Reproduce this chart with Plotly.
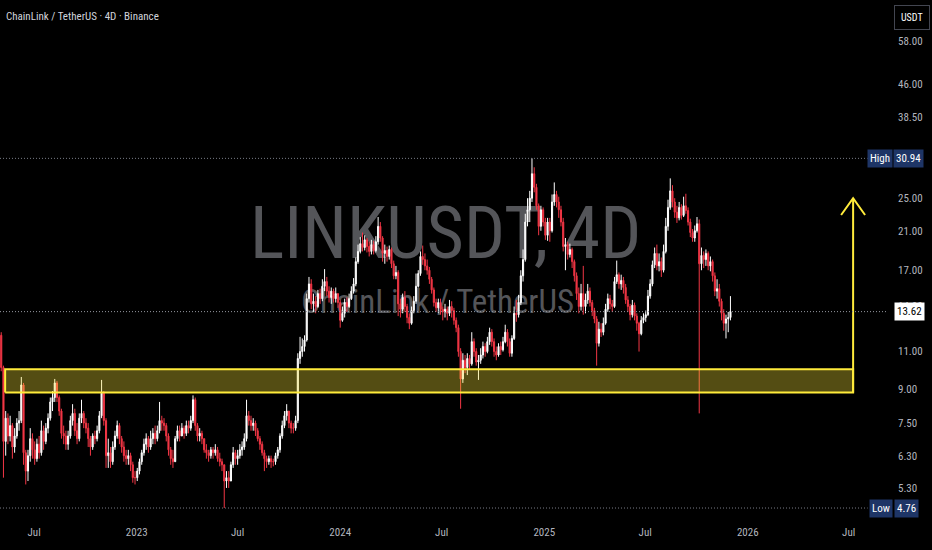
import math
import pandas as pd
import plotly.graph_objects as go

# ---------------- data ----------------
start_date = "2022-05-03"          # first 4D candle
first_open = 12.0

closes = [
    10.1, 6.8, 7.7, 7.0, 7.4, 6.6, 7.0, 7.5, 7.6, 9.2,
    6.4, 5.8, 6.3, 6.9, 6.5, 6.2, 6.7, 6.4, 7.2, 6.8,
    7.3, 7.7, 8.4, 8.6, 9.3, 8.6, 8.0, 7.1, 7.0, 6.7,
    7.0, 7.6, 7.9, 7.2, 6.9, 7.7, 7.9, 7.5, 7.3, 6.9,
    6.6, 7.0, 6.9, 7.2, 7.8, 8.8, 7.6, 6.3, 6.4, 6.1,
    6.6, 7.0, 7.4, 6.9, 6.6, 6.3, 6.2, 6.3, 6.0, 5.6,
    5.6, 5.8, 6.1, 6.4, 6.7, 6.9, 6.6, 6.9, 7.1, 6.9,
    7.2, 7.6, 7.5, 7.4, 7.0, 6.5, 6.2, 6.1, 6.9, 7.2,
    7.0, 7.3, 7.1, 7.4, 7.3, 7.6, 8.5, 7.4, 7.0, 7.1,
    6.9, 6.5, 6.4, 6.3, 6.5, 6.4, 6.5, 6.2, 6.1, 6.0,
    5.5, 5.6, 5.5, 6.0, 6.4, 6.2, 6.3, 6.5, 6.6, 6.9,
    7.8, 7.6, 7.4, 7.5, 7.2, 6.9, 6.7, 6.4, 6.2, 6.1,
    6.2, 6.1, 6.1, 6.3, 6.5, 7.0, 7.4, 7.8, 8.0, 7.5,
    7.3, 7.3, 7.6, 10.6, 11.0, 11.3, 11.7, 14.6, 15.8, 14.2,
    14.4, 14.0, 15.0, 14.6, 15.6, 16.0, 15.2, 14.7, 15.2, 14.6,
    15.0, 14.3, 13.0, 13.5, 14.3, 14.0, 14.6, 15.2, 15.8, 17.8,
    18.8, 19.6, 19.2, 20.0, 19.3, 18.8, 19.5, 18.9, 19.8, 21.5,
    20.2, 18.6, 18.9, 18.3, 19.0, 17.6, 16.5, 16.8, 14.2, 13.8,
    14.7, 14.0, 13.2, 12.8, 13.7, 14.4, 15.6, 16.7, 18.3, 18.0,
    17.4, 17.0, 16.2, 15.3, 14.3, 13.9, 14.3, 13.8, 13.6, 13.8,
    13.5, 14.0, 13.7, 13.0, 12.5, 11.0, 9.5, 10.5, 10.1, 10.6,
    10.3, 11.6, 11.0, 10.4, 10.5, 10.8, 11.3, 11.0, 11.6, 12.2,
    11.6, 11.0, 10.8, 11.3, 11.1, 11.6, 12.2, 11.6, 10.9, 11.8,
    13.5, 13.4, 14.3, 16.5, 18.0, 22.0, 23.5, 25.0, 28.5, 26.5,
    24.0, 21.5, 23.5, 22.0, 20.5, 22.0, 21.0, 24.5, 25.5, 24.5,
    23.5, 22.0, 19.3, 19.5, 18.5, 19.0, 17.8, 16.5, 15.0, 14.0,
    15.0, 14.0, 14.5, 15.2, 14.3, 13.7, 13.1, 11.5, 12.4, 12.2,
    12.8, 13.8, 14.6, 14.2, 14.0, 16.0, 16.6, 15.8, 16.1, 15.5,
    14.5, 14.0, 13.4, 14.1, 13.3, 12.8, 12.1, 13.0, 13.2, 13.4,
    14.8, 15.8, 17.5, 18.6, 17.4, 17.8, 17.0, 18.8, 21.5, 23.8,
    26.0, 24.5, 23.2, 22.5, 23.8, 22.8, 24.0, 23.4, 22.0, 20.8,
    20.2, 21.0, 21.8, 17.6, 18.4, 18.0, 18.6, 17.4, 17.8, 16.5,
    15.2, 15.4, 14.4, 13.5, 12.8, 13.1, 13.2, 13.62,
]

highs = [
    12.2, 10.2, 8.0, 7.9, 7.8, 7.5, 7.3, 7.7, 8.0, 9.6,
    9.3, 6.5, 6.5, 7.3, 7.1, 6.8, 6.9, 7.0, 7.6, 7.4,
    7.5, 7.9, 8.6, 8.9, 9.5, 9.4, 8.7, 8.1, 7.4, 7.2,
    7.2, 7.8, 8.3, 8.1, 7.5, 7.9, 8.5, 8.0, 7.7, 7.5,
    7.0, 7.1, 7.2, 7.4, 8.0, 9.45, 8.9, 7.7, 6.9, 6.6,
    6.8, 7.2, 7.6, 7.5, 7.0, 6.8, 6.5, 6.5, 6.4, 6.1,
    5.8, 5.9, 6.2, 6.5, 6.9, 7.1, 7.0, 7.2, 7.3, 7.4,
    7.4, 8.4, 7.8, 7.7, 7.5, 7.1, 6.6, 6.5, 7.0, 7.4,
    7.4, 7.5, 7.4, 7.6, 7.6, 7.8, 8.7, 8.6, 7.5, 7.3,
    7.2, 6.9, 6.7, 6.5, 6.6, 6.6, 6.7, 6.6, 6.4, 6.2,
    6.0, 5.8, 5.8, 6.1, 6.6, 6.5, 6.5, 6.7, 6.8, 7.1,
    8.5, 8.0, 7.8, 7.7, 7.6, 7.3, 7.0, 6.8, 6.5, 6.3,
    6.3, 6.3, 6.2, 6.4, 6.6, 7.1, 7.6, 8.0, 8.3, 8.0,
    7.6, 7.5, 7.8, 10.9, 11.9, 11.8, 12.0, 15.0, 16.4, 16.2,
    15.0, 14.8, 15.3, 15.4, 16.2, 17.1, 16.4, 15.6, 15.5, 15.4,
    15.5, 15.0, 14.5, 14.0, 14.6, 14.7, 15.0, 15.6, 16.3, 18.2,
    19.5, 20.3, 20.8, 20.5, 20.2, 19.8, 20.0, 19.9, 20.4, 22.6,
    22.0, 20.4, 19.5, 19.3, 19.4, 19.2, 17.9, 17.4, 17.0, 14.6,
    15.0, 15.2, 14.2, 13.5, 14.0, 14.8, 16.7, 17.0, 18.8, 19.4,
    18.6, 18.0, 17.3, 16.4, 15.5, 14.6, 14.6, 14.6, 14.0, 14.2,
    14.0, 14.5, 14.4, 13.9, 13.2, 12.7, 11.2, 10.9, 10.8, 10.9,
    10.8, 12.2, 11.8, 11.2, 10.8, 11.2, 11.6, 11.5, 11.9, 12.5,
    12.4, 11.8, 11.3, 11.5, 11.6, 11.9, 12.7, 12.4, 11.8, 12.0,
    14.0, 14.5, 14.9, 17.0, 19.0, 23.0, 25.0, 26.0, 30.94, 29.5,
    27.0, 24.3, 24.0, 23.8, 22.5, 22.5, 22.5, 25.5, 27.2, 26.0,
    25.2, 24.0, 22.5, 20.2, 19.8, 19.6, 19.2, 18.0, 16.8, 15.5,
    15.8, 17.4, 15.0, 15.8, 15.5, 14.5, 13.9, 13.3, 12.9, 12.8,
    13.2, 14.2, 15.0, 14.9, 14.5, 16.4, 17.9, 16.8, 16.6, 16.4,
    15.8, 14.8, 14.2, 14.5, 14.3, 13.5, 12.9, 13.3, 13.5, 13.7,
    15.3, 16.2, 17.9, 19.2, 19.5, 18.6, 18.2, 19.5, 22.5, 24.8,
    27.8, 26.8, 25.0, 24.0, 24.5, 24.2, 25.2, 25.6, 23.8, 22.4,
    21.2, 21.6, 22.6, 22.3, 19.2, 18.8, 19.0, 18.8, 18.3, 18.0,
    16.8, 16.2, 15.8, 14.6, 13.8, 13.4, 13.6, 14.8,
]

lows = [
    9.9, 5.6, 6.3, 6.7, 6.8, 6.2, 6.4, 6.9, 7.2, 7.5,
    6.0, 5.4, 5.5, 6.1, 6.2, 6.0, 6.1, 6.2, 6.3, 6.5,
    6.7, 7.1, 7.6, 8.0, 8.4, 8.4, 7.8, 6.9, 6.7, 6.5,
    6.5, 6.9, 7.4, 7.0, 6.7, 6.8, 7.5, 7.3, 7.1, 6.6,
    6.3, 6.5, 6.7, 6.8, 7.1, 7.7, 7.4, 5.9, 5.9, 5.9,
    6.0, 6.5, 6.9, 6.7, 6.4, 6.1, 6.0, 6.0, 5.8, 5.45,
    5.4, 5.5, 5.7, 6.0, 6.3, 6.5, 6.4, 6.5, 6.7, 6.7,
    6.8, 7.1, 7.2, 7.2, 6.8, 6.3, 6.0, 5.9, 6.1, 6.8,
    6.8, 7.0, 6.9, 7.0, 7.1, 7.2, 7.5, 7.2, 6.8, 6.8,
    6.7, 6.4, 6.2, 6.1, 6.2, 6.2, 6.3, 6.1, 5.95, 5.8,
    4.76, 5.3, 5.3, 5.5, 5.9, 6.0, 6.0, 6.2, 6.3, 6.5,
    6.8, 7.4, 7.2, 7.2, 7.0, 6.8, 6.5, 6.3, 5.8, 5.9,
    6.0, 5.9, 5.95, 6.0, 6.2, 6.4, 6.9, 7.3, 7.6, 7.3,
    7.1, 7.1, 7.2, 7.5, 10.3, 10.7, 11.0, 11.6, 14.3, 13.8,
    13.6, 13.5, 13.9, 14.2, 14.4, 15.2, 14.8, 14.3, 14.2, 14.3,
    14.3, 13.9, 12.5, 12.9, 13.2, 13.6, 13.9, 14.5, 15.0, 15.6,
    17.6, 18.6, 18.8, 18.9, 18.7, 18.3, 18.5, 18.5, 18.7, 19.5,
    19.8, 17.8, 17.6, 17.8, 18.0, 17.2, 16.2, 16.2, 13.3, 13.2,
    13.5, 13.6, 12.8, 12.4, 12.7, 13.5, 14.2, 15.5, 16.5, 17.5,
    17.0, 16.6, 15.8, 15.0, 14.0, 13.6, 13.5, 13.4, 13.0, 13.2,
    13.0, 13.3, 13.2, 12.7, 12.2, 10.7, 8.1, 9.3, 9.8, 9.7,
    10.0, 10.2, 10.7, 10.2, 9.45, 10.3, 10.6, 10.7, 10.9, 11.4,
    11.3, 10.7, 10.5, 10.7, 10.8, 11.0, 11.5, 11.3, 10.7, 10.7,
    11.7, 12.9, 13.2, 14.1, 16.0, 17.8, 21.5, 22.0, 24.5, 25.8,
    23.5, 20.5, 21.0, 21.5, 20.0, 19.9, 19.8, 20.8, 24.0, 23.8,
    22.5, 21.5, 18.8, 17.0, 18.0, 18.2, 17.2, 16.0, 14.5, 13.5,
    13.7, 13.4, 13.5, 14.2, 14.0, 13.3, 12.8, 10.2, 11.3, 11.9,
    12.0, 12.7, 13.6, 13.8, 13.6, 13.9, 15.8, 15.4, 15.3, 15.0,
    14.2, 13.6, 13.0, 13.2, 13.0, 12.3, 11.0, 12.0, 12.8, 12.9,
    13.3, 14.6, 15.6, 17.2, 17.0, 16.9, 16.4, 16.8, 18.6, 21.0,
    23.5, 23.8, 22.5, 21.9, 22.2, 22.3, 22.6, 23.0, 21.6, 20.3,
    19.8, 19.8, 20.8, 7.9, 17.0, 17.2, 17.4, 17.0, 16.9, 16.0,
    14.8, 14.6, 14.0, 13.0, 12.3, 11.8, 12.2, 13.0,
]

zone_low, zone_high = 8.83, 10.0
zone_start, zone_end = "2022-05-10", "2026-07-09"
target_price = 25.0
high_val, low_val, last_val = 30.94, 4.76, 13.62

y_tick_vals = [5.3, 6.3, 7.5, 9.0, 11.0, 14.0, 17.0, 21.0, 25.0, 38.5, 46.0, 58.0]
x_tick_dates = ["2022-07-01", "2023-01-01", "2023-07-01", "2024-01-01", "2024-07-01",
                "2025-01-01", "2025-07-01", "2026-01-01", "2026-07-01"]
x_tick_text = ["Jul", "2023", "Jul", "2024", "Jul", "2025", "Jul", "2026", "Jul"]

# ---------------- build ----------------
dates = pd.date_range(start_date, periods=len(closes), freq="4D")
opens = [first_open] + closes[:-1]
highs = [max(h, o, c) for h, o, c in zip(highs, opens, closes)]
lows = [min(l, o, c) for l, o, c in zip(lows, opens, closes)]

X_RANGE = ["2022-04-30 19:00", "2026-09-06"]
LINE_END = "2026-08-04"
FONT = "Liberation Sans Narrow, Arial Narrow, Roboto Condensed, DejaVu Sans Condensed, Roboto, sans-serif"
YELLOW = "#ffeb3b"
RED = "#f23645"
AXIS_TXT = "#b2b5be"

fig = go.Figure()

# watermark on the base (bottom) subplot, so candles are drawn above it
fig.add_trace(go.Scatter(
    x=[0.503], y=[0.538], mode="text", text=["LINKUSDT, 4D"], xaxis="x", yaxis="y",
    textfont=dict(family=FONT, size=72, color="#545559"), hoverinfo="skip", showlegend=False))
fig.add_trace(go.Scatter(
    x=[0.494], y=[0.412], mode="text", text=["ChainLink / TetherUS"], xaxis="x", yaxis="y",
    textfont=dict(family=FONT, size=33, color="#545559"), hoverinfo="skip", showlegend=False))

fig.add_trace(go.Candlestick(
    x=dates, open=opens, high=highs, low=lows, close=closes,
    xaxis="x2", yaxis="y2",
    increasing=dict(line=dict(color="#ffffff", width=1), fillcolor="#ffffff"),
    decreasing=dict(line=dict(color=RED, width=1), fillcolor=RED),
    whiskerwidth=0, showlegend=False, hoverinfo="skip"))

# support zone
fig.add_trace(go.Scatter(
    x=[zone_start, zone_end, zone_end, zone_start, zone_start],
    y=[zone_low, zone_low, zone_high, zone_high, zone_low],
    mode="lines", fill="toself", fillcolor="rgba(255,235,59,0.33)",
    line=dict(color=YELLOW, width=2), xaxis="x2", yaxis="y2",
    hoverinfo="skip", showlegend=False))

# arrow up to the target
wing = pd.Timedelta(days=21.5)
ze = pd.Timestamp(zone_end)
fig.add_trace(go.Scatter(
    x=[ze, ze], y=[zone_low, target_price], mode="lines",
    line=dict(color=YELLOW, width=2), xaxis="x2", yaxis="y2",
    hoverinfo="skip", showlegend=False))
fig.add_trace(go.Scatter(
    x=[ze - wing, ze, ze + wing], y=[target_price * 0.914, target_price, target_price * 0.914],
    mode="lines", line=dict(color=YELLOW, width=2), xaxis="x2", yaxis="y2",
    hoverinfo="skip", showlegend=False))

# dotted reference lines
for val, end, col in [(high_val, LINE_END, "#787b86"), (low_val, LINE_END, "#787b86"),
                      (last_val, X_RANGE[1], "#9598a1")]:
    fig.add_trace(go.Scatter(
        x=[X_RANGE[0], end], y=[val, val], mode="lines",
        line=dict(color=col, width=1, dash="1px,2px"), xaxis="x2", yaxis="y2",
        hoverinfo="skip", showlegend=False))

PW = 886.0
def px(xpix):
    return xpix / PW

ann = []
lab_font = dict(family=FONT, size=11, color="#ffffff")
BLUE = "#1e3566"
for name, val, cx1, cx2 in [("High", high_val, 880, 908), ("Low", low_val, 881, 906.5)]:
    ann.append(dict(xref="paper", yref="y2", x=px(cx1), y=math.log10(val), text=name,
                    showarrow=False, xanchor="center", yanchor="middle", bgcolor=BLUE,
                    borderpad=2, font=lab_font))
    ann.append(dict(xref="paper", yref="y2", x=px(cx2), y=math.log10(val), text=f"{val:.2f}",
                    showarrow=False, xanchor="center", yanchor="middle", bgcolor=BLUE,
                    borderpad=2, font=lab_font))
ann.append(dict(xref="paper", yref="y2", x=px(909), y=math.log10(last_val), text=f"{last_val:.2f}",
                showarrow=False, xanchor="center", yanchor="middle", bgcolor="#ffffff",
                borderpad=2, font=dict(family=FONT, size=11, color="#000000")))
ann.append(dict(xref="paper", yref="paper", x=px(911.5), y=(519 - 18) / 519.0, text="USDT",
                showarrow=False, xanchor="center", yanchor="middle", bgcolor="#000000",
                bordercolor="#434651", borderwidth=1, borderpad=6,
                font=dict(family=FONT, size=10, color="#ffffff")))
ann.append(dict(xref="paper", yref="paper", x=px(4), y=(519 - 17) / 519.0,
                text="ChainLink / TetherUS · 4D · Binance", showarrow=False,
                xanchor="left", yanchor="middle",
                font=dict(family=FONT, size=11, color="#d1d4dc")))

fig.update_layout(
    width=932, height=550,
    margin=dict(l=0, r=46, t=0, b=31),
    paper_bgcolor="#000000", plot_bgcolor="#000000",
    showlegend=False,
    xaxis=dict(range=[0, 1], visible=False, fixedrange=True, rangeslider=dict(visible=False)),
    yaxis=dict(range=[0, 1], visible=False, fixedrange=True),
    xaxis2=dict(overlaying="x", anchor="y2", side="bottom", type="date", range=X_RANGE,
                showgrid=False, zeroline=False, showline=False,
                tickvals=x_tick_dates, ticktext=x_tick_text, ticks="",
                ticklabelstandoff=5,
                tickfont=dict(family=FONT, size=11, color=AXIS_TXT),
                rangeslider=dict(visible=False)),
    yaxis2=dict(overlaying="y", anchor="x2", side="right", type="log",
                range=[0.6521, 1.8587], showgrid=False, zeroline=False, showline=False,
                tickvals=y_tick_vals, ticktext=[f"{v:.2f}" for v in y_tick_vals],
                ticks="", ticklabelstandoff=11,
                tickfont=dict(family=FONT, size=11, color=AXIS_TXT)),
    annotations=ann,
)

page_fix = ("document.body.style.margin='0px';document.body.style.padding='0px';"
            "document.body.style.background='#000000';"
            "document.documentElement.style.background='#000000';"
            "document.documentElement.style.overflow='hidden';")
fig.write_html("out.html", post_script=page_fix, config={"displayModeBar": False})
